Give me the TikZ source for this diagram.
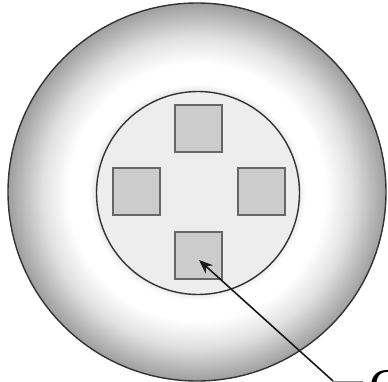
\documentclass[tikz,border=0pt]{standalone}
\usepackage{fontspec}
\setmainfont{Liberation Serif}
\usetikzlibrary{arrows.meta}
\pgfdeclareradialshading{ringshade}{\pgfpoint{0bp}{0bp}}{color(0bp)=(white);color(13.5bp)=(black!8);color(14.3bp)=(white);color(17bp)=(white);color(20.5bp)=(black!12);color(25bp)=(black!38);color(50bp)=(black!38)}
\tikzset{
  disc/.style={circle,draw=black!80,line width=1.4pt,inner sep=0pt,outer sep=0pt},
  padbox/.style={rectangle,draw=black!60,line width=2pt,fill=black!20,minimum size=47pt,inner sep=0pt,outer sep=0pt},
  leader/.style={draw=black!90,line width=1.6pt,-{Stealth[length=14pt,width=11pt]}},
  rulebar/.style={draw=black!45,line width=1pt}
}
\begin{document}
\begin{tikzpicture}[x=1pt,y=-1pt]
\useasboundingbox (0,0) rectangle (388,382);
\node[disc,minimum size=378pt,shade,shading=ringshade] (outer) at (197,192) {};
\node[disc,minimum size=203pt,fill=black!7] (inner) at (198,193) {};
\node[padbox] (top) at (198,129) {};
\node[padbox] (left) at (136,191.5) {};
\node[padbox] (right) at (261,191.5) {};
\node[padbox] (bottom) at (198,255) {};
\coordinate (tip) at (199,260);
\coordinate (bend) at (333,381);
\node[anchor=base west,font=\fontsize{50}{50}\selectfont,inner sep=0pt,inner xsep=6pt] (label) at (363,403) {C};
\draw[rulebar] (bend) -- (label.west |- bend);
\draw[leader] (bend) -- (tip);
\end{tikzpicture}
\end{document}
